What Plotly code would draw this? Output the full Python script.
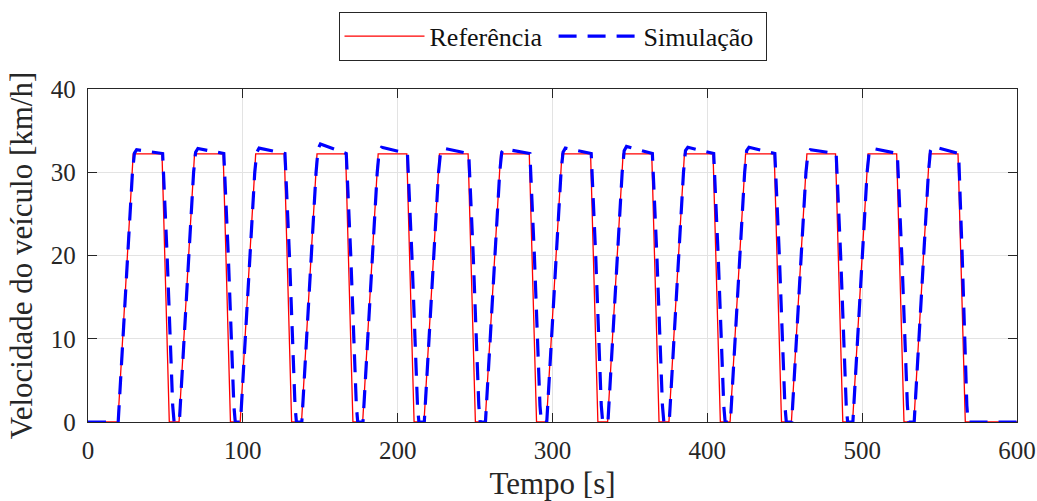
import plotly.graph_objects as go

# reference cycle breakpoints [s]
ref_rise = [19.3, 58.8, 98.3, 137.9, 177.4, 217.0, 256.5, 296.1, 335.6, 375.2, 414.7, 454.3, 493.8, 533.4]
ref_top = [29.2, 68.8, 108.3, 147.9, 187.4, 227.0, 266.5, 306.1, 345.6, 385.2, 424.7, 464.3, 503.8, 543.4]
ref_end = [47.8, 87.3, 126.8, 166.4, 205.9, 245.5, 285.0, 324.6, 364.1, 403.7, 443.2, 482.8, 522.3, 561.9]
ref_zero = [52.5, 92.0, 131.5, 171.1, 210.6, 250.2, 289.7, 329.3, 368.8, 408.4, 447.9, 487.5, 527.0, 566.6]
ref_speed = 32.2

# simulation breakpoints [s] and overshoot peaks [km/h]
sim_rise = [19.5, 59.0, 98.5, 138.1, 177.6, 217.2, 256.7, 296.3, 335.8, 375.4, 414.9, 454.5, 494.0, 533.6]
sim_t30 = [28.7, 68.2, 107.7, 147.3, 186.8, 226.4, 265.9, 305.5, 345.0, 384.6, 424.1, 463.7, 503.2, 542.8]
sim_tknee = [30.0, 69.5, 109.0, 148.6, 188.1, 227.7, 267.2, 306.8, 346.3, 385.9, 425.4, 465.0, 504.5, 544.1]
sim_knee = [32.3, 32.4, 32.4, 32.8, 32.6, 32.4, 32.4, 32.4, 32.6, 32.6, 32.6, 32.3, 32.4, 32.6]
sim_tpeak = [31.4, 71.0, 110.5, 150.1, 189.6, 229.2, 268.7, 308.3, 347.8, 387.4, 426.9, 466.5, 506.0, 545.6]
sim_peak = [32.7, 32.85, 32.9, 33.4, 33.0, 32.9, 32.8, 32.9, 33.1, 33.0, 33.0, 32.7, 32.9, 33.1]
sim_end = [48.2, 87.7, 127.2, 166.8, 206.3, 245.9, 285.4, 325.0, 364.5, 404.1, 443.6, 483.2, 522.7, 562.3]
sim_end_v = 32.25
sim_t20 = [51.1, 90.6, 130.1, 169.7, 209.2, 248.8, 288.3, 327.9, 367.4, 407.0, 446.5, 486.1, 525.6, 564.6]
sim_t10 = [53.0, 92.5, 132.0, 171.6, 211.1, 250.7, 290.2, 329.8, 369.3, 408.9, 448.4, 488.0, 527.5, 566.2]
sim_t2 = [54.7, 94.2, 133.7, 173.3, 212.8, 252.4, 291.9, 331.5, 371.0, 410.6, 450.1, 489.7, 529.2, 567.6]
sim_zero = [55.6, 95.1, 134.6, 174.2, 213.7, 253.3, 292.8, 332.4, 371.9, 411.5, 451.0, 490.6, 530.1, 568.4]

t_end = 600

# build polylines from the breakpoints
ref_t, ref_v = [0], [0]
for a, b, c, d in zip(ref_rise, ref_top, ref_end, ref_zero):
    ref_t += [a, b, c, d]
    ref_v += [0, ref_speed, ref_speed, 0]
ref_t.append(t_end)
ref_v.append(0)

sim_t, sim_v = [0], [0]
for i in range(len(sim_rise)):
    sim_t += [sim_rise[i], sim_t30[i], sim_tknee[i], sim_tpeak[i], sim_end[i],
              sim_t20[i], sim_t10[i], sim_t2[i], sim_zero[i]]
    sim_v += [0, 30, sim_knee[i], sim_peak[i], sim_end_v, 20, 10, 2, 0]
sim_t.append(t_end)
sim_v.append(0)

font = "Liberation Serif, Times New Roman, serif"
fig = go.Figure()
fig.add_trace(go.Scatter(x=ref_t, y=ref_v, mode="lines", name="Referência\u00a0",
                         line=dict(color="#ff0000", width=1.3)))
fig.add_trace(go.Scatter(x=sim_t, y=sim_v, mode="lines", name="Simulação\u00a0",
                         line=dict(color="#0000ff", width=3.2, dash="18px,11px")))

axis_style = dict(showgrid=True, gridcolor="#e3e3e3", gridwidth=1, showline=True,
                  linecolor="#262626", linewidth=1.3, mirror="ticks", ticks="inside",
                  ticklen=9, tickcolor="#262626", tickwidth=1.3, zeroline=False,
                  automargin=False, ticklabelstandoff=6,
                  tickfont=dict(family=font, size=25, color="#262626"))

fig.update_xaxes(range=[0, 600], dtick=100,
                 title=dict(text="Tempo [s]", font=dict(family=font, size=31, color="#262626"), standoff=15),
                 **axis_style)
fig.update_yaxes(range=[0, 40], dtick=10,
                 title=dict(text="Velocidade do veículo [km/h]", font=dict(family=font, size=31, color="#262626"), standoff=8),
                 **axis_style)

fig.update_layout(
    width=1037, height=501,
    margin=dict(l=88, r=20, t=89, b=79),
    font=dict(family=font, color="#262626"),
    paper_bgcolor="white", plot_bgcolor="white",
    legend=dict(orientation="h", x=0.5, xanchor="center", y=1.232, yanchor="top",
                bordercolor="#262626", borderwidth=1, bgcolor="white",
                font=dict(family=font, size=26, color="#111111"), itemwidth=80),
    showlegend=True,
)

fig.write_html("out.html", config={"displayModeBar": False},
               post_script="document.body.style.margin='0';")
